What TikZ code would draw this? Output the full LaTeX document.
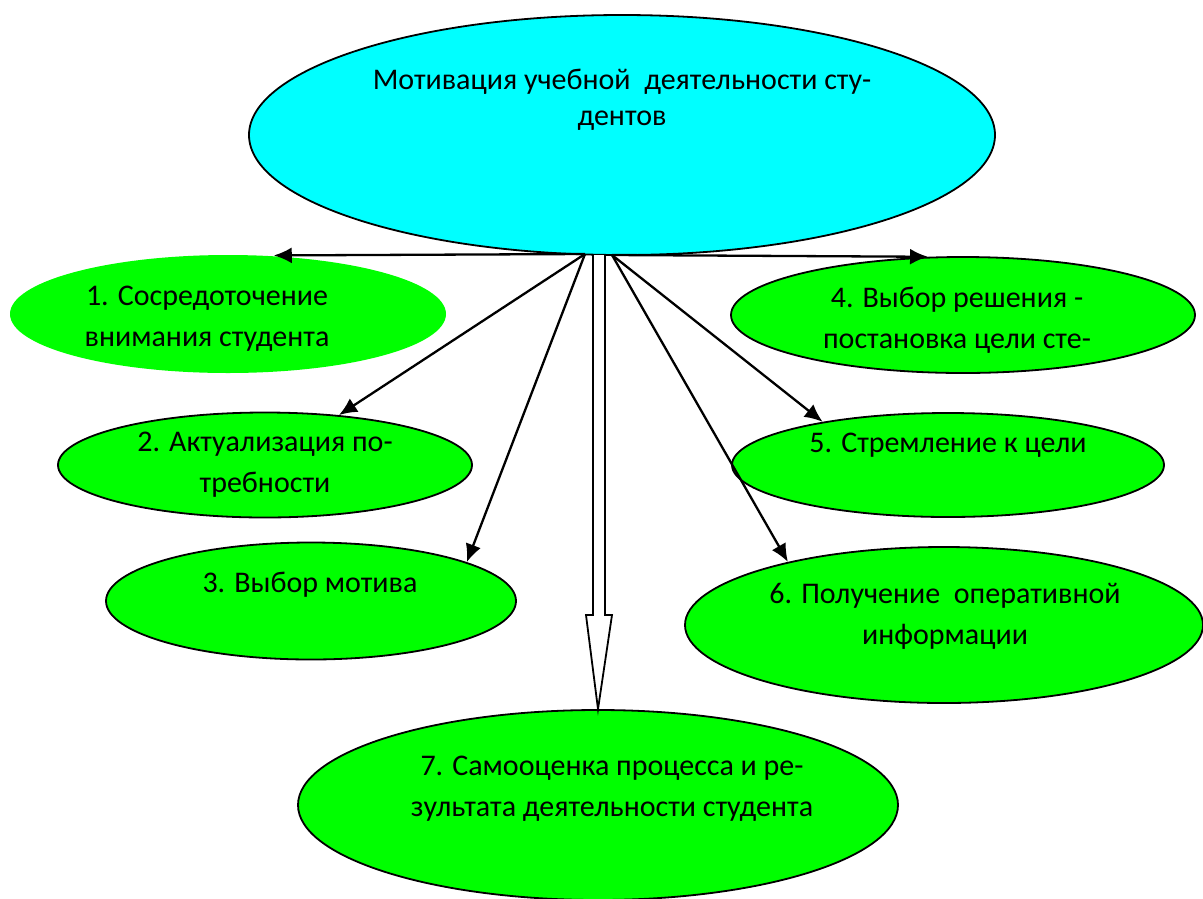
\documentclass[tikz,border=0pt]{standalone}
\usepackage{fontspec}
\setmainfont{Carlito}
\usetikzlibrary{shapes.geometric,arrows.meta}
\definecolor{topcyan}{HTML}{00FFFF}
\definecolor{leafgreen}{HTML}{00FF00}
\begin{document}
\begin{tikzpicture}[x=1pt,y=-1pt,
  oval/.style={ellipse,inner sep=0pt,fill=leafgreen,draw=black,line width=1.8pt},
  label/.style={inner sep=0pt,align=center,font=\fontsize{30}{41}\selectfont},
  link/.style={line width=2.3pt,-{Latex[length=18pt,width=16pt]}}]
\useasboundingbox (0,0) rectangle (1203,898);
\fill[white] (0,0) rectangle (1203,898);
% ellipses
\node[oval,fill=topcyan,minimum width=746pt,minimum height=240pt] (top) at (622,135) {};
\node[oval,draw=none,minimum width=436pt,minimum height=118pt] (e1) at (228,314) {};
\node[oval,minimum width=414pt,minimum height=105pt] (e2) at (265,465) {};
\node[oval,minimum width=410pt,minimum height=117pt] (e3) at (311,601) {};
\node[oval,minimum width=464pt,minimum height=116pt] (e4) at (963,315) {};
\node[oval,minimum width=432pt,minimum height=104pt] (e5) at (948,465) {};
\node[oval,minimum width=518pt,minimum height=156pt] (e6) at (944,625) {};
\node[oval,minimum width=600pt,minimum height=190pt] (e7) at (598,805) {};
% texts
\node[label,font=\fontsize{30}{36}\selectfont] (tt) at (622,100) {Мотивация учебной\ \ деятельности сту-\\дентов};
\node[label] (t1) at (207,319) {1. Сосредоточение\\внимания студента};
\node[label] (t2) at (265,465) {2. Актуализация по-\\требности};
\node[label] (t3) at (310,585) {3. Выбор мотива};
\node[label] (t4) at (957,320) {4. Выбор решения -\\постановка цели сте-};
\node[label] (t5) at (948,445) {5. Стремление к цели};
\node[label] (t6) at (945,616) {6. Получение\ \ оперативной\\информации};
\node[label] (t7) at (612,789) {7. Самооценка процесса и ре-\\зультата деятельности студента};
% origins on the bottom of the top ellipse
\coordinate (oL) at (585,254);
\coordinate (oR) at (612,255);
% arrows
\draw[link] (oL) -- (e1.52);
\draw[link] (oL) -- (e2.34);
\draw[link] (oL) -- (e3.14);
\draw[link] (oR) -- (e4.121);
\draw[link] (oR) -- (e5.161);
\draw[link] (oR) -- (e6.158);
% hollow arrow to e7
\draw[line width=1.8pt,fill=white,line join=miter]
  (593,255) -- (593,615) -- (586,615) -- (e7.north) -- (612,615) -- (605,615) -- (605,255);
\end{tikzpicture}
\end{document}
